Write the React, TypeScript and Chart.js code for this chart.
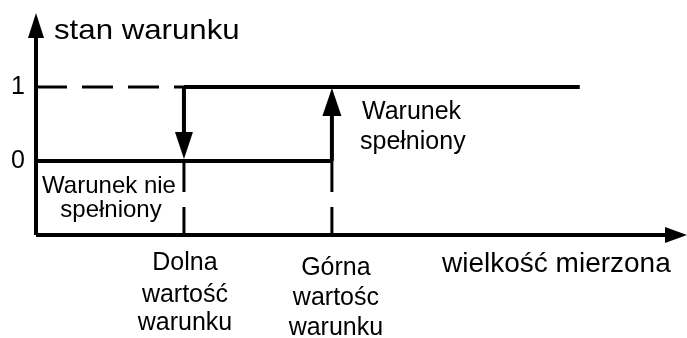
import React, { useEffect, useRef } from "react";
import { Chart, registerables } from "chart.js";

Chart.register(...registerables);

// ---- data ----
const thresholds = [2, 4]; // dolna, górna wartość warunku
const levels = [0, 1]; // stan warunku
const yTickLabels = ["0", "1"];
const lowBranchX = [0, 4];
const highBranchX = [2, 7.35];
const dashedHighX = [0, 2];
const axisRange = { xMin: 0, xMax: 8.8, yMin: -1, yMax: 2 };
const yAxisTitle = "stan warunku";
const xAxisTitle = "wielkość mierzona";
const thresholdLabels = [
  ["Dolna", "wartość", "warunku"],
  ["Górna", "wartośc", "warunku"],
];
const stateLabelOff = ["Warunek nie", "spełniony"];
const stateLabelOn = ["Warunek", "spełniony"];

const FONT = "'Liberation Sans', Arial, sans-serif";

function seg(x0: number, y0: number, x1: number, y1: number) {
  return [
    { x: x0, y: y0 },
    { x: x1, y: y1 },
  ];
}

const solid = (data: any[]) => ({
  data,
  borderColor: "#000",
  borderWidth: 4,
  pointRadius: 0,
  borderCapStyle: "butt",
  clip: false,
  fill: false,
});
const dashed = (data: any[]) => ({
  data,
  borderColor: "#000",
  borderWidth: 3,
  borderDash: [31, 15],
  pointRadius: 0,
  borderCapStyle: "butt",
  clip: false,
  fill: false,
});

function arrow(ctx: CanvasRenderingContext2D, tx: number, ty: number, dir: string, len: number, w: number) {
  ctx.beginPath();
  ctx.moveTo(tx, ty);
  if (dir === "up") {
    ctx.lineTo(tx - w / 2, ty + len);
    ctx.lineTo(tx + w / 2, ty + len);
  } else if (dir === "down") {
    ctx.lineTo(tx - w / 2, ty - len);
    ctx.lineTo(tx + w / 2, ty - len);
  } else {
    ctx.lineTo(tx - len, ty - w / 2);
    ctx.lineTo(tx - len, ty + w / 2);
  }
  ctx.closePath();
  ctx.fillStyle = "#000";
  ctx.fill();
}

function stretchedText(ctx: CanvasRenderingContext2D, text: string, x: number, y: number, sx: number) {
  ctx.save();
  ctx.translate(x, y);
  ctx.scale(sx, 1);
  ctx.fillText(text, 0, 0);
  ctx.restore();
}

const overlay = {
  id: "overlay",
  afterDraw(chart: any) {
    const ctx = chart.ctx as CanvasRenderingContext2D;
    const xs = chart.scales.x;
    const ys = chart.scales.y;
    const px = (v: number) => xs.getPixelForValue(v);
    const py = (v: number) => ys.getPixelForValue(v);
    ctx.save();
    // axis arrows
    arrow(ctx, px(axisRange.xMin), py(axisRange.yMax), "up", 25, 16);
    arrow(ctx, px(axisRange.xMax), py(axisRange.yMin), "right", 22, 16);
    // transition arrows
    arrow(ctx, px(thresholds[0]), py(levels[0]) - 2, "down", 27, 18);
    arrow(ctx, px(thresholds[1]), py(levels[1]) + 1, "up", 28, 19);

    ctx.fillStyle = "#000";
    // tick labels
    ctx.font = `25px ${FONT}`;
    ctx.textAlign = "right";
    ctx.textBaseline = "middle";
    levels.forEach((l, i) => ctx.fillText(yTickLabels[i], px(axisRange.xMin) - 11, py(l)));

    ctx.textBaseline = "alphabetic";
    // axis titles
    ctx.font = `28px ${FONT}`;
    ctx.textAlign = "left";
    stretchedText(ctx, yAxisTitle, px(axisRange.xMin) + 18, 39, 1.115);
    ctx.fillText(xAxisTitle, 442, py(axisRange.yMin) + 37);

    // threshold labels
    ctx.font = `25px ${FONT}`;
    ctx.textAlign = "center";
    const lx0 = px(thresholds[0]);
    [270, 302, 330].forEach((b, i) => ctx.fillText(thresholdLabels[0][i], lx0 + 1, b));
    const lx1 = px(thresholds[1]);
    [275, 305, 335].forEach((b, i) => ctx.fillText(thresholdLabels[1][i], lx1 + 4, b));

    // state labels
    ctx.font = `24px ${FONT}`;
    ctx.fillText(stateLabelOff[0], 109, 193);
    ctx.fillText(stateLabelOff[1], 111, 217);
    ctx.font = `25px ${FONT}`;
    ctx.textAlign = "left";
    ctx.fillText(stateLabelOn[0], 362, 119);
    ctx.fillText(stateLabelOn[1], 360, 149);
    ctx.restore();
  },
};

export default function App() {
  const ref = useRef<HTMLCanvasElement>(null);
  useEffect(() => {
    if (!ref.current) return;
    const { xMin, xMax, yMin, yMax } = axisRange;
    const chart = new Chart(ref.current, {
      type: "line",
      data: {
        datasets: [
          // axes
          solid(seg(xMin, yMin, xMin, yMax - 0.2)) as any,
          solid(seg(xMin, yMin, xMax - 0.2, yMin)) as any,
          // low level branch
          solid(seg(lowBranchX[0], levels[0], lowBranchX[1], levels[0])) as any,
          // high level branch
          solid(seg(highBranchX[0], levels[1], highBranchX[1], levels[1])) as any,
          dashed(seg(dashedHighX[0], levels[1], dashedHighX[1], levels[1])) as any,
          // transitions
          solid(seg(thresholds[0], levels[1], thresholds[0], levels[0] + 0.3)) as any,
          solid(seg(thresholds[1], levels[0], thresholds[1], levels[1] - 0.3)) as any,
          // dashed drops to axis
          dashed(seg(thresholds[0], levels[0], thresholds[0], yMin)) as any,
          dashed(seg(thresholds[1], levels[0], thresholds[1], yMin)) as any,
        ],
      },
      options: {
        animation: false,
        responsive: false,
        events: [],
        layout: { padding: { left: 36, right: 0, top: 13, bottom: 103 } },
        plugins: { legend: { display: false }, tooltip: { enabled: false } },
        scales: {
          x: { type: "linear", min: xMin, max: xMax, display: false },
          y: { type: "linear", min: yMin, max: yMax, display: false },
        },
      },
      plugins: [overlay],
    });
    return () => chart.destroy();
  }, []);
  return (
    <div style={{ position: "fixed", left: 0, top: 0, width: 687, height: 338, background: "#fff" }}>
      <canvas ref={ref} width={687} height={338} />
    </div>
  );
}
